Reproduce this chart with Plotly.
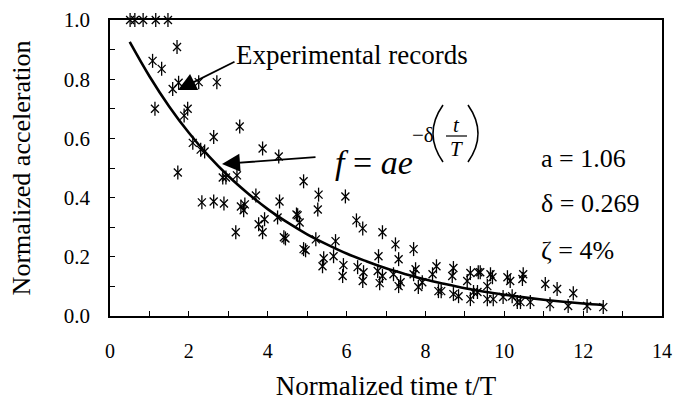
import plotly.graph_objects as go

# Experimental records (normalized time, normalized acceleration)
exp_t = [0.51, 0.63, 0.84, 1.16, 1.47,
         1.70, 1.08, 1.31, 1.74, 1.59, 2.25, 2.71, 1.14, 1.97, 1.88, 3.29, 2.10, 2.63, 2.30, 2.40, 3.87, 4.28,
         1.72, 2.86, 2.94, 3.22, 2.33, 2.63, 2.89, 3.70, 3.32, 3.42, 3.39, 4.30, 3.19, 3.77, 3.92, 3.87, 4.25, 4.41, 4.45, 4.76,
         4.91, 5.29, 5.27, 5.97, 4.73, 4.81, 6.25, 6.41, 6.91, 4.91, 4.96, 5.22, 5.72, 5.67, 5.42, 5.39, 5.92, 5.90, 6.28, 6.43,
         6.41, 6.81, 7.24, 7.32, 7.70, 6.79, 6.91, 6.84, 7.19, 7.37, 7.32, 7.75, 7.70, 7.82, 7.92, 8.18, 8.28, 8.33, 8.40, 8.71,
         8.68, 8.71, 8.84, 9.14, 9.34, 9.06, 9.14, 9.32, 9.57, 9.57,
         9.39, 9.65, 9.70, 10.08, 10.15, 10.48, 10.46, 11.04, 11.34, 11.75, 9.22, 9.72, 9.97, 10.20, 10.33, 10.41, 10.66,
         11.16, 11.62, 12.10, 12.51]
exp_a = [1.0, 1.0, 1.0, 1.0, 1.0,
         0.909, 0.862, 0.835, 0.788, 0.767, 0.79, 0.79, 0.70, 0.70, 0.677, 0.64, 0.585, 0.605, 0.562, 0.556, 0.566, 0.539,
         0.485, 0.468, 0.468, 0.475, 0.384, 0.387, 0.38, 0.407, 0.37, 0.377, 0.357, 0.387, 0.283, 0.31, 0.327, 0.283, 0.333, 0.266, 0.262, 0.34,
         0.455, 0.41, 0.36, 0.404, 0.343, 0.316, 0.323, 0.296, 0.283, 0.226, 0.222, 0.259, 0.253, 0.202, 0.195, 0.168, 0.172, 0.135, 0.165, 0.148,
         0.118, 0.202, 0.242, 0.192, 0.226, 0.152, 0.135, 0.111, 0.141, 0.114, 0.101, 0.158, 0.141, 0.098, 0.114, 0.141, 0.168, 0.084, 0.084, 0.162,
         0.135, 0.074, 0.067, 0.145, 0.148, 0.118, 0.057, 0.081, 0.101, 0.057,
         0.148, 0.141, 0.131, 0.131, 0.118, 0.141, 0.125, 0.108, 0.091, 0.077, 0.081, 0.057, 0.064, 0.067, 0.047, 0.047, 0.047,
         0.040, 0.034, 0.034, 0.030]

# Fitted curve f = a*exp(-delta*t/T)
fit_t = [0.5, 1, 1.5, 2, 2.5, 3, 3.5, 4, 4.5, 5, 5.5, 6, 6.5, 7, 7.5, 8, 8.5, 9, 9.5, 10, 10.5, 11, 11.5, 12, 12.5]
fit_a = [0.926, 0.810, 0.708, 0.619, 0.541, 0.473, 0.414, 0.361, 0.316, 0.276, 0.242, 0.211, 0.185, 0.161, 0.141,
         0.123, 0.108, 0.094, 0.082, 0.072, 0.063, 0.055, 0.048, 0.042, 0.037]

x_ticks = [0, 2, 4, 6, 8, 10, 12, 14]
y_ticks = [0.0, 0.2, 0.4, 0.6, 0.8, 1.0]
y_tick_labels = ["0.0", "0.2", "0.4", "0.6", "0.8", "1.0"]

FONT = "Liberation Serif"

# plot-area geometry (pixels) used to place decorations
PL, PR, PT, PB = 110, 662, 20, 316
XMAX, YMAX = 14.0, 1.0


def px2x(px):
    return (px - PL) / (PR - PL) * XMAX


def py2y(py):
    return (PB - py) / (PB - PT) * YMAX


fig = go.Figure()
fig.add_trace(go.Scatter(x=exp_t, y=exp_a, mode="markers", cliponaxis=False,
                         marker=dict(symbol="x-thin-open", size=8, color="black",
                                     line=dict(color="black", width=1.3)),
                         showlegend=False, hoverinfo="skip"))
fig.add_trace(go.Scatter(x=exp_t, y=exp_a, mode="markers", cliponaxis=False,
                         marker=dict(symbol="line-ns-open", size=10, color="black",
                                     line=dict(color="black", width=1.3)),
                         showlegend=False))
fig.add_trace(go.Scatter(x=fit_t, y=fit_a, mode="lines", line=dict(color="black", width=2.6, shape="spline"),
                         showlegend=False))

axis_common = dict(showgrid=False, zeroline=False, showline=True, linecolor="black", linewidth=1.5,
                   mirror=True, ticks="inside", ticklen=5, tickwidth=1, tickcolor="black", automargin=False)

fig.update_xaxes(range=[0, XMAX], tickvals=x_ticks, ticklabelstandoff=16,
                 tickfont=dict(family=FONT, size=20, color="black"),
                 minor=dict(dtick=1, ticks="inside", ticklen=5, tickcolor="black"),
                 title=dict(text="Normalized time t/T", font=dict(family=FONT, size=27, color="black"), standoff=15),
                 **axis_common)
fig.update_yaxes(range=[0, YMAX], tickvals=y_ticks, ticktext=y_tick_labels, ticklabelstandoff=14,
                 tickfont=dict(family=FONT, size=21, color="black"),
                 minor=dict(dtick=0.1, ticks="inside", ticklen=5, tickcolor="black"),
                 title=dict(text="Normalized acceleration", font=dict(family=FONT, size=26, color="black"), standoff=26),
                 **axis_common)


def txt(px, py, text, size, anchor="left"):
    return dict(x=px2x(px), y=py2y(py), xref="x", yref="y", text=text, showarrow=False,
                xanchor=anchor, yanchor="middle", font=dict(family=FONT, size=size, color="black"))


def arrow(tip, tail):
    return dict(x=px2x(tip[0]), y=py2y(tip[1]), ax=px2x(tail[0]), ay=py2y(tail[1]),
                axref="x", ayref="y", xref="x", yref="y", text="", showarrow=True,
                arrowhead=2, arrowsize=2.0, arrowwidth=1.8, arrowcolor="black")


ann = [
    arrow((178, 90), (236, 61)),
    arrow((222, 164), (317, 157)),
    txt(234, 55, "Experimental records", 27),
    txt(333, 162, "<i>f</i> = <i>ae</i>", 34),
    txt(410, 135, "−δ", 21),
    txt(456, 125, "<i>t</i>", 21, "center"),
    txt(456, 149, "<i>T</i>", 21, "center"),
    txt(539, 158, "a = 1.06", 26),
    txt(539, 203, "δ = 0.269", 26),
    txt(539, 250, "ζ = 4%", 26),
]


def paren(x_end, x_ctrl):
    return dict(type="path", xref="x", yref="y",
                path=f"M {px2x(x_end)},{py2y(105)} Q {px2x(x_ctrl)},{py2y(133.5)} {px2x(x_end)},{py2y(162)}",
                line=dict(color="black", width=1.6))


shapes = [
    paren(443, 423),
    paren(468, 488),
    dict(type="line", xref="x", yref="y", x0=px2x(446), x1=px2x(467), y0=py2y(136), y1=py2y(136),
         line=dict(color="black", width=1.2)),
]

fig.update_layout(
    width=673, height=401,
    margin=dict(l=PL, r=673 - PR, t=PT, b=401 - PB),
    paper_bgcolor="white", plot_bgcolor="white",
    font=dict(family=FONT, color="black"),
    annotations=ann,
    shapes=shapes,
)

fig.write_html("out.html", config={"displayModeBar": False},
               post_script="document.body.style.margin='0px';")
